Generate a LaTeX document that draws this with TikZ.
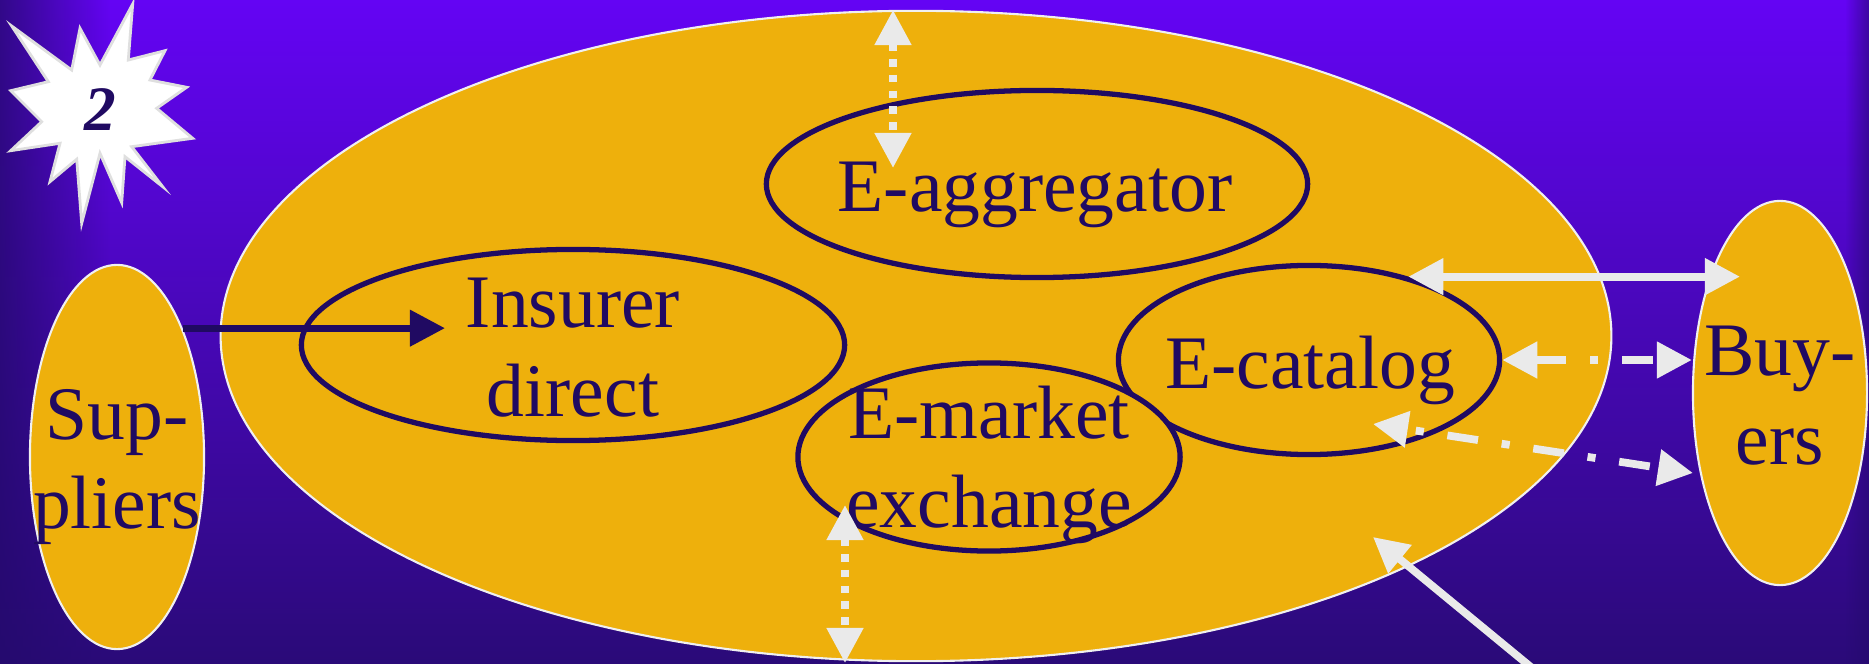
\documentclass[tikz,border=0pt]{standalone}
\usepackage{fontspec}
\setmainfont{Liberation Serif}
\usetikzlibrary{shapes.geometric,arrows.meta,fadings}

\definecolor{navy}{RGB}{32,10,98}
\definecolor{gold}{RGB}{238,176,12}
\definecolor{bgtop}{RGB}{100,4,244}
\definecolor{bgmid}{RGB}{78,8,204}
\definecolor{bgbot}{RGB}{42,10,120}
\definecolor{edge}{RGB}{36,10,108}
\definecolor{rim}{RGB}{240,240,240}
\definecolor{flow}{RGB}{234,234,234}

\begin{document}
\begin{tikzpicture}[x=0.01cm,y=-0.01cm,>={Triangle[length=0.35cm,width=0.35cm]},
    party/.style={ellipse,fill=gold,draw=rim,line width=0.6pt,inner sep=0pt},
    channel/.style={ellipse,fill=gold,draw=navy,line width=1.5pt,inner sep=0pt},
    word/.style={text=navy,font=\fontsize{21.5}{25.3}\selectfont,align=center,inner sep=0pt},
    supply/.style={draw=navy,line width=2pt,->},
    link/.style={draw=flow,line width=2.2pt},
    dots/.style={link,dash pattern=on 2.2pt off 2.3pt},
    dashdot/.style={link,dash pattern=on 8.8pt off 6.8pt on 2.3pt off 6.8pt}]

       \useasboundingbox (0,0) rectangle (1869,664);
       \shade[top color=bgtop,middle color=bgmid,bottom color=bgbot] (0,0) rectangle (1869,664);
       \fill[edge,path fading=east] (-30,0) rectangle (110,664);
       \fill[edge,path fading=west] (1845,0) rectangle (1885,664);

       \filldraw[fill=white,draw=rim!85!gray,line width=0.8pt]
         (132.7,4) -- (128.3,60) -- (165,50.7) -- (150,80) -- (186.7,87.3) -- (156.7,108.3)
         -- (192.7,138.3) -- (131.7,146.7) -- (162.7,186.7) -- (125,156.7) -- (121.7,202.7)
         -- (100,153.3) -- (81.7,223.3) -- (76.7,159.3) -- (50,181.7) -- (60,143.3)
         -- (10.7,150.7) -- (41.7,121.7) -- (10.7,90.7) -- (48.3,81.7) -- (11.7,26)
         -- (71.7,70) -- (80,28.3) -- (100,65) -- cycle;
       \node[text=navy,font=\fontsize{18}{18}\selectfont\bfseries\itshape,anchor=base] (badge) at (100,131) {2};

       \node[party,minimum width=13.9cm,minimum height=6.5cm] (arena) at (916,336) {};
       \node[party,minimum width=1.74cm,minimum height=3.84cm] (suppliers) at (117,457) {};
       \node[party,minimum width=1.74cm,minimum height=3.84cm] (buyers) at (1780,393) {};

       \node[channel,minimum width=5.43cm,minimum height=1.91cm] (insurer) at (573,345) {};
       \node[channel,minimum width=5.41cm,minimum height=1.87cm] (aggregator) at (1037,184) {};
       \node[channel,minimum width=3.81cm,minimum height=1.89cm] (catalog) at (1309,360) {};
       \node[channel,minimum width=3.82cm,minimum height=1.88cm] (exchange) at (989,457) {};

       \node[word] (insurer-t) at (573,348) {Insurer\\direct};
       \node[word,anchor=base] (aggregator-t) at (1035,212) {E-aggregator};
       \node[word,anchor=base] (catalog-t) at (1310,388) {E-catalog};
       \node[word] (exchange-t) at (989,465) {E-market\\exchange};
       \node[word] (suppliers-t) at (117,467) {Sup-\\pliers};
       \node[word] (buyers-t) at (1780,396) {Buy-\\ers};

       \coordinate (insurer-in) at (445,328);
       \coordinate (aggr-top) at (893,10);
       \coordinate (aggr-in) at (893,168);
       \coordinate (exch-in) at (845,505);
       \coordinate (exch-low) at (845,663);
       \coordinate (buyers-in) at (1740,281);
       \coordinate (catalog-in) at (1373,424);
       \coordinate (buyers-low) at (1693,473);
       \coordinate (feed) at (1560,691);
       \coordinate (arena-in) at (1373,537);

       \draw[supply] (suppliers.63) -- (suppliers.63 -| insurer-in);
       \draw[dots,<->] (aggr-top) -- (aggr-in);
       \draw[dots,<->] (exch-in) -- (exch-low);
       \draw[link,<->] (catalog.40) -- (catalog.40 -| buyers-in);
       \draw[dashdot,<->] (catalog.east) -- (catalog.east -| buyers.west);
       \draw[dashdot,dash phase=12.7pt,<->] (catalog-in) -- (buyers-low);
       \draw[link,->] (feed) -- (arena-in);
     \end{tikzpicture}
\end{document}
